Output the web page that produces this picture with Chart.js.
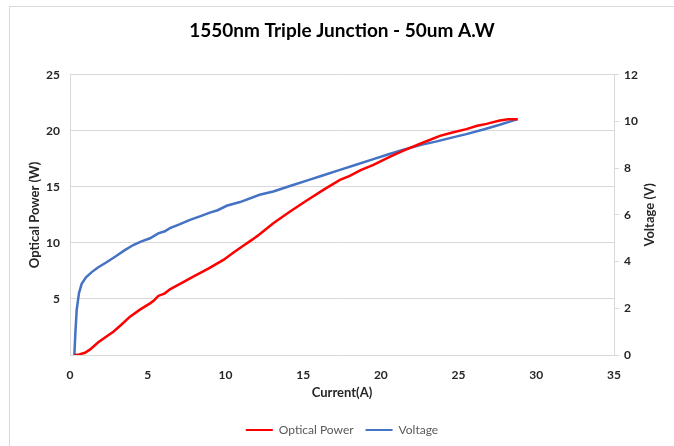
<!DOCTYPE html>
<html>
<head>
<meta charset="utf-8">
<script src="https://cdn.jsdelivr.net/npm/chart.js@4.4.1/dist/chart.umd.min.js"></script>
<style>
  html, body { margin: 0; padding: 0; background: #fff; }
  #wrap { position: relative; width: 674px; height: 446px; overflow: hidden; }
  #frame { position: absolute; left: 9px; top: 6px; width: 700px; height: 500px;
           border-left: 1px solid #d9d9d9; border-top: 1px solid #d9d9d9; }
  #c { position: absolute; left: 0; top: 0; }
</style>
</head>
<body>
<div id="wrap">
  <div id="frame"></div>
  <canvas id="c" width="674" height="446"></canvas>
</div>
<script>
// ---- Data ----
const chartTitle = '1550nm Triple Junction - 50um A.W';
const xTitle = 'Current(A)';
const yTitle = 'Optical Power (W)';
const y1Title = 'Voltage (V)';

const powerName = 'Optical Power';
const powerCurrent = [0.3, 0.6, 0.96, 1.3, 1.82, 2.3, 2.79, 3.3, 3.86, 4.5, 5.15, 5.4, 5.68, 6.1, 6.43, 7.08, 7.93, 8.9, 9.87, 10.5, 11.1, 11.7, 12.2, 13.08, 14.16, 15.23, 16.3, 17.37, 18.0, 18.7, 19.52, 20.6, 21.45, 22.73, 23.8, 24.6, 25.5, 26.2, 26.8, 27.65, 28.2, 28.8];
const powerValues  = [0, 0.05, 0.2, 0.5, 1.13, 1.6, 2.08, 2.7, 3.42, 4.05, 4.61, 4.85, 5.27, 5.5, 5.86, 6.34, 6.99, 7.7, 8.48, 9.13, 9.7, 10.27, 10.78, 11.76, 12.8, 13.78, 14.73, 15.63, 15.98, 16.5, 16.96, 17.7, 18.24, 18.96, 19.55, 19.85, 20.15, 20.45, 20.62, 20.92, 21.04, 21.04];

const voltageName = 'Voltage';
const voltageCurrent = [0.28, 0.35, 0.43, 0.58, 0.75, 1.03, 1.4, 1.82, 2.3, 2.9, 3.5, 4.07, 4.6, 5.15, 5.68, 6.1, 6.43, 7.0, 7.72, 8.4, 9.0, 9.5, 10.08, 10.94, 12.2, 13.08, 14.2, 15.23, 16.3, 17.37, 18.4, 19.52, 20.5, 21.45, 22.6, 23.6, 24.5, 25.5, 26.6, 27.65, 28.8];
const voltageValues  = [0, 1.0, 1.93, 2.66, 3.05, 3.33, 3.55, 3.76, 3.95, 4.21, 4.48, 4.71, 4.87, 5.0, 5.21, 5.3, 5.43, 5.58, 5.79, 5.95, 6.1, 6.2, 6.39, 6.55, 6.86, 7.0, 7.25, 7.47, 7.7, 7.93, 8.15, 8.39, 8.6, 8.79, 9.0, 9.15, 9.3, 9.46, 9.66, 9.86, 10.1];

const xTicks = [0, 5, 10, 15, 20, 25, 30, 35];
const yTicks = [0, 5, 10, 15, 20, 25];
const y1Ticks = [0, 2, 4, 6, 8, 10, 12];

// ---- Styles ----
const FONT = 'Lato, Carlito, Calibri, "Open Sans", sans-serif';
const textColor = '#262626';
const gridColor = '#d9d9d9';
const redColor = '#ff0000';
const blueColor = '#4472c4';

const toPoints = (xs, ys) => xs.map((x, i) => ({ x: x, y: ys[i] }));

const rightTitlePlugin = {
  id: 'rightTitle',
  afterDraw(chart) {
    const s = chart.scales.y1;
    const ctx = chart.ctx;
    ctx.save();
    ctx.font = 'bold 13px ' + FONT;
    ctx.fillStyle = textColor;
    ctx.textAlign = 'center';
    ctx.textBaseline = 'middle';
    ctx.translate(650, (s.top + s.bottom) / 2);
    ctx.rotate(-Math.PI / 2);
    ctx.fillText(y1Title, 0, 0);
    ctx.restore();
  }
};

new Chart(document.getElementById('c'), {
  type: 'line',
  data: {
    datasets: [
      { label: powerName, data: toPoints(powerCurrent, powerValues), yAxisID: 'y',
        borderColor: redColor, backgroundColor: redColor, borderWidth: 2.5,
        pointRadius: 0, tension: 0, fill: false },
      { label: voltageName, data: toPoints(voltageCurrent, voltageValues), yAxisID: 'y1',
        borderColor: blueColor, backgroundColor: blueColor, borderWidth: 2.5,
        pointRadius: 0, tension: 0, fill: false }
    ]
  },
  options: {
    responsive: false,
    animation: false,
    devicePixelRatio: 1,
    layout: { padding: { left: 10, right: 0, top: 0, bottom: 0 } },
    plugins: {
      title: {
        display: true, text: chartTitle, color: '#000',
        font: { family: FONT, size: 19, weight: 'bold' },
        padding: { top: 19, bottom: 33 }
      },
      legend: {
        position: 'bottom',
        labels: {
          color: '#595959',
          font: { family: FONT, size: 12 },
          boxWidth: 27, boxHeight: 2, padding: 12,
          generateLabels(chart) {
            return chart.data.datasets.map((d, i) => ({
              text: d.label, fillStyle: d.borderColor, strokeStyle: d.borderColor,
              lineWidth: 0, hidden: false, datasetIndex: i, fontColor: '#595959'
            }));
          }
        }
      },
      tooltip: { enabled: false }
    },
    scales: {
      x: {
        type: 'linear', min: 0, max: 35,
        afterBuildTicks(s) { s.ticks = xTicks.map(v => ({ value: v })); },
        afterFit(s) { s.height = 57; },
        grid: { display: false },
        border: { display: false },
        ticks: { color: textColor, font: { family: FONT, size: 12, weight: 'bold' }, padding: 5, maxRotation: 0 },
        title: { display: true, text: xTitle, color: textColor,
                 font: { family: FONT, size: 13, weight: 'bold' }, padding: { top: 0, bottom: 11 } }
      },
      y: {
        type: 'linear', position: 'left', min: 0, max: 25,
        afterBuildTicks(s) { s.ticks = yTicks.map(v => ({ value: v })); },
        afterFit(s) { s.width = 60; },
        grid: { color: gridColor, lineWidth: 1, drawTicks: false },
        border: { display: true, color: gridColor },
        ticks: { color: textColor, font: { family: FONT, size: 12, weight: 'bold' }, padding: 10,
                 callback: v => (v === 0 ? '' : v) },
        title: { display: true, text: yTitle, color: textColor,
                 font: { family: FONT, size: 13, weight: 'bold' }, padding: { top: 17, bottom: 0 } }
      },
      y1: {
        type: 'linear', position: 'right', min: 0, max: 12,
        afterBuildTicks(s) { s.ticks = y1Ticks.map(v => ({ value: v })); },
        afterFit(s) { s.width = 60; },
        grid: { drawOnChartArea: false, drawTicks: true, tickLength: 5, color: gridColor },
        border: { display: true, color: gridColor },
        ticks: { color: textColor, font: { family: FONT, size: 12, weight: 'bold' }, padding: 5 },
        title: { display: false }
      }
    }
  },
  plugins: [rightTitlePlugin]
});
</script>
</body>
</html>
